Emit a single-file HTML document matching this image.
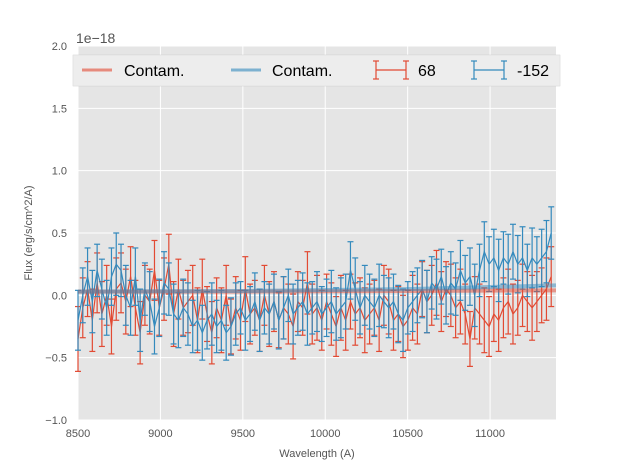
<!DOCTYPE html>
<html><head><meta charset="utf-8"><style>
body{margin:0;background:#fff;font-family:"Liberation Sans","DejaVu Sans",sans-serif}
svg text{font-family:"Liberation Sans","DejaVu Sans",sans-serif}
</style></head><body>
<svg id="chart" width="617" height="467" xmlns="http://www.w3.org/2000/svg">
<rect x="0" y="0" width="617" height="467" fill="#fff"/>
<rect x="78" y="46" width="478" height="374" fill="#E5E5E5"/>
<g id="grid"></g><g id="ticks"></g><g id="marks"></g>
<text x="76" y="43" font-size="14" fill="#555">1e−18</text>
<text x="317" y="457" font-size="11" fill="#555" text-anchor="middle">Wavelength (A)</text>
<text transform="translate(32,233) rotate(-90)" font-size="11" fill="#555" text-anchor="middle">Flux (erg/s/cm^2/A)</text>
<g>
<rect x="73" y="55" width="487" height="31" fill="#E5E5E5" stroke="#ccc" stroke-width="0.5"/>
<rect x="73" y="55" width="487" height="31" fill="#fff" opacity="0.3"/>
<g><line x1="82" y1="70" x2="112" y2="70" stroke="#E24A33" stroke-width="3" opacity="0.6"/><text x="124" y="76" font-size="16" fill="#000">Contam.</text></g>
<g><line x1="231" y1="70" x2="261" y2="70" stroke="#348ABD" stroke-width="3" opacity="0.6"/><text x="272" y="76" font-size="16" fill="#000">Contam.</text></g>
<g stroke="#E24A33" stroke-width="1.2"><line x1="376" y1="70" x2="406" y2="70"/><line x1="376" y1="61" x2="376" y2="79"/><line x1="406" y1="61" x2="406" y2="79"/><line x1="373" y1="61" x2="379" y2="61"/><line x1="373" y1="79" x2="379" y2="79"/><line x1="403" y1="61" x2="409" y2="61"/><line x1="403" y1="79" x2="409" y2="79"/><text x="418" y="76" font-size="16" fill="#000" stroke="none">68</text></g>
<g stroke="#348ABD" stroke-width="1.2"><line x1="474" y1="70" x2="504" y2="70"/><line x1="474" y1="61" x2="474" y2="79"/><line x1="504" y1="61" x2="504" y2="79"/><line x1="471" y1="61" x2="477" y2="61"/><line x1="471" y1="79" x2="477" y2="79"/><line x1="501" y1="61" x2="507" y2="61"/><line x1="501" y1="79" x2="507" y2="79"/><text x="517" y="76" font-size="16" fill="#000" stroke="none">-152</text></g>
</g>
</svg>
<script>
const xTicks=[8500,9000,9500,10000,10500,11000];
const yTicks=[-1.0,-0.5,0.0,0.5,1.0,1.5,2.0];
const yTickLabels=["−1.0","−0.5","0.0","0.5","1.0","1.5","2.0"];
const wlStart=8500, wlStep=29;
const red68=[-0.35,-0.1,0.05,-0.2,0.1,-0.15,0.0,-0.25,0.05,0.1,
-0.05,0.15,-0.1,-0.3,0.0,-0.05,0.2,-0.1,0.05,0.25,
-0.15,0.05,-0.1,-0.05,0.0,-0.2,0.05,-0.15,-0.3,-0.1,
-0.2,0.0,-0.25,-0.1,-0.2,0.05,-0.15,-0.1,-0.2,0.0,
-0.15,-0.05,-0.2,-0.1,-0.15,-0.25,-0.05,-0.1,0.1,-0.15,
-0.1,-0.2,-0.05,-0.15,-0.25,-0.1,-0.2,-0.05,-0.15,-0.1,
-0.2,-0.15,-0.1,-0.2,0.0,-0.05,-0.2,-0.15,-0.25,-0.2,
-0.1,-0.15,0.05,-0.05,0.0,0.1,-0.05,0.05,0.0,-0.1,
-0.05,-0.15,-0.35,-0.1,-0.15,-0.2,-0.25,-0.15,-0.2,-0.1,
-0.05,-0.15,-0.1,0.0,-0.05,-0.1,-0.05,0.0,0.05,0.15];
const blue152=[-0.2,0.0,0.15,-0.05,0.2,0.05,-0.1,0.15,0.25,0.2,
0.0,-0.1,0.15,-0.2,0.05,-0.05,-0.25,-0.1,0.1,0.05,
-0.15,-0.2,-0.1,-0.15,-0.25,-0.2,-0.3,-0.2,-0.15,-0.25,
-0.2,-0.3,-0.25,-0.15,-0.1,-0.2,-0.15,-0.05,-0.2,-0.1,
-0.15,-0.05,-0.2,-0.1,0.0,-0.15,-0.1,-0.05,-0.15,-0.1,
-0.05,-0.15,-0.1,-0.05,-0.15,-0.1,-0.05,0.2,0.05,-0.1,
0.0,-0.05,-0.1,0.0,-0.05,-0.1,-0.05,-0.15,-0.2,-0.1,
-0.05,0.0,0.05,-0.05,0.1,0.05,0.15,0.0,0.1,0.05,
0.2,0.1,0.15,0.0,0.2,0.35,0.25,0.3,0.2,0.3,
0.25,0.35,0.25,0.3,0.2,0.3,0.25,0.3,0.35,0.5];
const errRed=[0.26,0.24,0.22,0.25,0.24];
const errBlue=[0.24,0.22,0.23,0.25,0.21];
const contamRed=[0.03,0.03,0.035,0.04];
const contamBlue=[0.03,0.035,0.05,0.08];
const contamWl=[8500,9500,10500,11400];

const NS="http://www.w3.org/2000/svg";
const X=w=>78+(w-8500)*478/2900;
const Y=v=>420-(v+1)*374/3;
function mk(tag,attrs,parent){const e=document.createElementNS(NS,tag);for(const k in attrs)e.setAttribute(k,attrs[k]);parent.appendChild(e);return e;}
const grid=document.getElementById('grid'),ticks=document.getElementById('ticks'),marks=document.getElementById('marks');
xTicks.forEach(t=>{
 const l=mk('line',{x1:X(t),x2:X(t),y1:46,y2:420,stroke:'#fff','stroke-width':1},grid);
 
 
 const s=mk('text',{x:X(t),y:437,'font-size':11,fill:'#555','text-anchor':'middle'},ticks);s.textContent=t;
 
 
});
yTicks.forEach((t,i)=>{
 const l=mk('line',{x1:78,x2:556,y1:Y(t),y2:Y(t),stroke:'#fff','stroke-width':1},grid);
 
 
 const s=mk('text',{x:67,y:Y(t)+4,'font-size':11,fill:'#555','text-anchor':'end'},ticks);s.textContent=yTickLabels[i];
 
 
});
function series(vals,errs,color,name){
 const g=mk('g',{stroke:color,'stroke-width':1.2,fill:'none'},marks);
 
 
 let d='';
 vals.forEach((v,i)=>{const x=X(wlStart+i*wlStep),e=errs[i%errs.length];
  mk('line',{x1:x,x2:x,y1:Y(v-e),y2:Y(v+e)},g);
  mk('line',{x1:x-3,x2:x+3,y1:Y(v-e),y2:Y(v-e)},g);
  mk('line',{x1:x-3,x2:x+3,y1:Y(v+e),y2:Y(v+e)},g);
  d+=(i?'L':'M')+x.toFixed(1)+','+Y(v).toFixed(1);});
 mk('path',{d:d},g);
}
function contam(vals,color,name){
 const p=mk('path',{d:vals.map((v,i)=>(i?'L':'M')+X(contamWl[i])+','+Y(v)).join(''),stroke:color,'stroke-width':4,opacity:0.5,fill:'none'},marks);
 
 
}
series(red68,errRed,'#E24A33','series-68');
series(blue152,errBlue,'#348ABD','series-minus152');
contam(contamRed,'#E24A33','contam-line-red');
contam(contamBlue,'#348ABD','contam-line-blue');
</script>
</body></html>
